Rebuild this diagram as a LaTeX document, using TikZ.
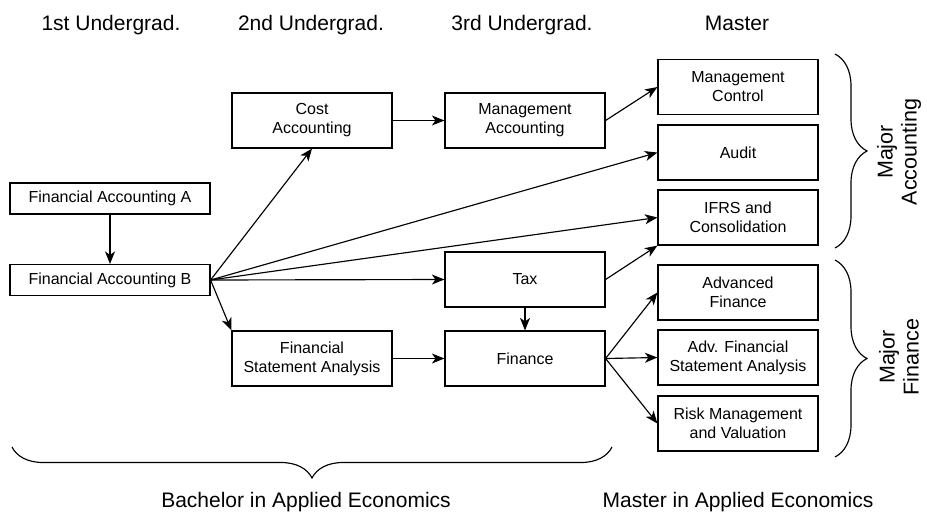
\documentclass[tikz,border=0pt]{standalone}
\usepackage{fontspec}
\setmainfont{Liberation Sans}
\usetikzlibrary{arrows.meta,decorations.pathreplacing}
\begin{document}
\begin{tikzpicture}[x=1pt,y=-1pt,
  course/.style={draw,line width=1.15pt,minimum width=160pt,minimum height=55pt,
    align=center,inner sep=0pt,font=\fontsize{16}{19}\selectfont},
  wide/.style={course,minimum width=200pt,minimum height=31pt},
  link/.style={line width=1.15pt,-{Stealth[length=12.5pt,width=10pt,inset=3.5pt]}},
  heading/.style={anchor=base,inner sep=0pt,font=\fontsize{21}{25}\selectfont},
  major/.style={rotate=90,align=center,inner sep=0pt,font=\fontsize{21.5}{24}\selectfont},
  bracket/.style={line width=1.15pt,decorate,decoration={brace,amplitude=#1}}
]
\useasboundingbox (0,0) rectangle (927,512);

% column headings
\node[heading] (h1) at (111,30) {1st Undergrad.};
\node[heading] (h2) at (311,30) {2nd Undergrad.};
\node[heading] (h3) at (522,30) {3rd Undergrad.};
\node[heading] (h4) at (737,30) {Master};

% first year
\node[wide] (fa) at (110,198.5) {Financial Accounting A};
\node[wide] (fb) at (110,280) {Financial Accounting B};

% second year
\node[course] (cost) at (312,120.5) {Cost\\Accounting};
\node[course] (fsa) at (312,358.5) {Financial\\Statement Analysis};

% third year
\node[course] (mgmt) at (525,120.5) {Management\\Accounting};
\node[course] (tax) at (525,279.5) {Tax};
\node[course] (fin) at (525,358.5) {Finance};

% master courses
\node[course] (mc) at (738,87) {Management\\Control};
\node[course] (audit) at (738,152.5) {Audit};
\node[course] (ifrs) at (738,217.5) {IFRS and\\Consolidation};
\node[course] (af) at (738,292.5) {Advanced\\Finance};
\node[course] (afsa) at (738,357.5) {Adv. Financial\\Statement Analysis};
\node[course] (risk) at (738,423.5) {Risk Management\\and Valuation};

% prerequisites
\draw[link] (fa) -- (fb);
\draw[link] (fb.east) -- (cost.south);
\draw[link] (fb.east) -- (audit.west);
\draw[link] (fb.east) -- (ifrs.west);
\draw[link] (fb.east) -- (tax.west);
\draw[link] (fb.east) -- (fsa.north west);
\draw[link] (cost) -- (mgmt);
\draw[link] (mgmt.east) -- (mc.west);
\draw[link] (tax.east) -- (ifrs.south west);
\draw[link] (tax) -- (fin);
\draw[link] (fsa) -- (fin);
\draw[link] (fin.east) -- (af.west);
\draw[link] (fin.east) -- (afsa.west);
\draw[link] (fin.east) -- (risk.west);

% majors
\coordinate (accTop) at (835,54);
\coordinate (accBot) at (835,248);
\coordinate (finTop) at (835,260);
\coordinate (finBot) at (835,457);
\draw[bracket=32pt] (accTop) -- (accBot);
\draw[bracket=32pt] (finTop) -- (finBot);
\node[major] (majacc) at (899,152) {Major\\Accounting};
\node[major] (majfin) at (899,357) {Major\\Finance};

% programmes
\coordinate (bachR) at (612,447);
\coordinate (bachL) at (12,447);
\draw[bracket=31pt] (bachR) -- (bachL);
\node[heading] (bach) at (306,507) {Bachelor in Applied Economics};
\node[heading] (mast) at (738,507) {Master in Applied Economics};
\end{tikzpicture}
\end{document}
